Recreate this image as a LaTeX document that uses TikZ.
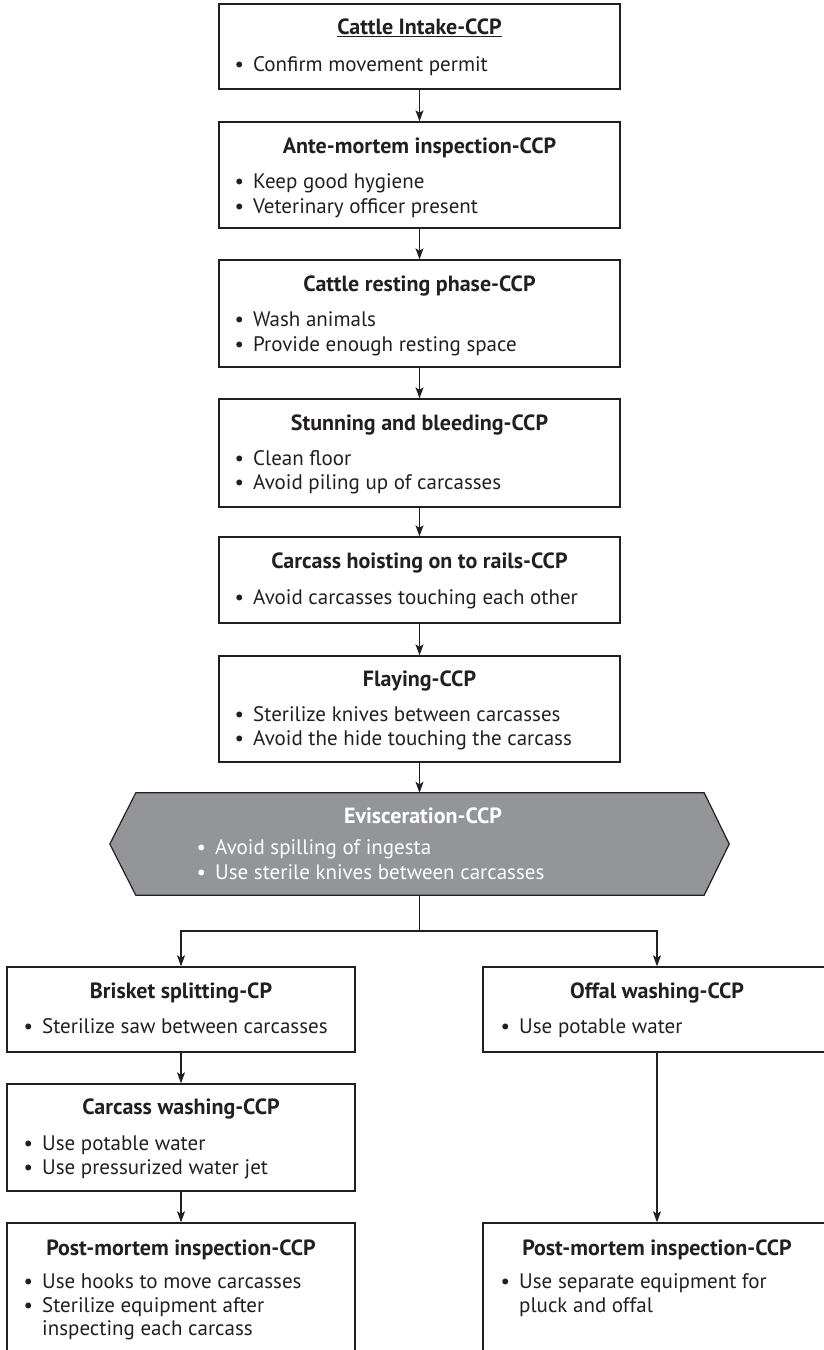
\documentclass[tikz,border=0pt]{standalone}
\usepackage{fontspec}
\setmainfont{PT Sans}
\usetikzlibrary{arrows.meta,calc}
\definecolor{ink}{HTML}{231F20}
\definecolor{hexgray}{HTML}{939598}
\newcommand{\bl}{\llap{\textbullet\hspace{9pt}}}
\begin{document}
\begin{tikzpicture}[x=1pt,y=-1pt,
  stepbox/.style={draw=ink,line width=1.4pt,rectangle,inner sep=0pt,minimum width=401pt},
  sidebox/.style={stepbox,minimum width=348pt},
  ttl/.style={font=\fontsize{22}{26}\selectfont\bfseries,text=ink,inner sep=0pt,anchor=base},
  itm/.style={font=\fontsize{21}{25}\selectfont,text=ink,inner sep=0pt,anchor=base west},
  arr/.style={draw=ink,line width=1.1pt,-{Stealth[length=11pt,width=8pt,inset=2.5pt]}},
  link/.style={draw=ink,line width=1.1pt}]
\useasboundingbox (0,0) rectangle (824,1350);
\clip (0,0) rectangle (824,1350);

% main column (titles and items placed on their baselines)
\node[stepbox,minimum height=85pt]  (intake)  at (419.5,46.5)  {};
\node[ttl] (intakeT) at (419.5,34) {\underline{Cattle Intake-CCP}};
\node[itm] (intake1) at (253,71) {\bl Confirm movement permit};

\node[stepbox,minimum height=106pt] (ante)    at (419.5,175)   {};
\node[ttl] (anteT) at (419.5,153) {Ante-mortem inspection-CCP};
\node[itm] (ante1) at (253,188) {\bl Keep good hygiene};
\node[itm] (ante2) at (253,213) {\bl Veterinary officer present};

\node[stepbox,minimum height=107pt] (rest)    at (419.5,313.5) {};
\node[ttl] (restT) at (419.5,291) {Cattle resting phase-CCP};
\node[itm] (rest1) at (253,326) {\bl Wash animals};
\node[itm] (rest2) at (253,351) {\bl Provide enough resting space};

\node[stepbox,minimum height=108pt] (stun)    at (419.5,453)   {};
\node[ttl] (stunT) at (419.5,430) {Stunning and bleeding-CCP};
\node[itm] (stun1) at (253,465) {\bl Clean floor};
\node[itm] (stun2) at (253,489) {\bl Avoid piling up of carcasses};

\node[stepbox,minimum height=86pt]  (hoist)   at (419.5,580)   {};
\node[ttl] (hoistT) at (419.5,568) {Carcass hoisting on to rails-CCP};
\node[itm] (hoist1) at (253,604) {\bl Avoid carcasses touching each other};

\node[stepbox,minimum height=106pt] (flay)    at (419.5,709)   {};
\node[ttl] (flayT) at (419.5,686) {Flaying-CCP};
\node[itm] (flay1) at (253,721) {\bl Sterilize knives between carcasses};
\node[itm] (flay2) at (253,745) {\bl Avoid the hide touching the carcass};

% evisceration hexagon
\node[rectangle,inner sep=0pt,minimum width=568pt,minimum height=102pt] (evis) at (420,844) {};
\filldraw[fill=hexgray,draw=ink,line width=1.2pt]
  (evis.north west) -- (evis.north east) -- ($(evis.east)+(25,0)$) --
  (evis.south east) -- (evis.south west) -- ($(evis.west)-(26,0)$) -- cycle;
\node[ttl,text=white] (evisT) at (423,823) {Evisceration-CCP};
\node[itm,text=white] (evis1) at (215,854) {\bl Avoid spilling of ingesta};
\node[itm,text=white] (evis2) at (215,879) {\bl Use sterile knives between carcasses};

% left branch
\node[sidebox,minimum height=85pt]  (brisket) at (181,1009.5) {};
\node[ttl] (brisketT) at (181,998) {Brisket splitting-CP};
\node[itm] (brisket1) at (42,1033) {\bl Sterilize saw between carcasses};

\node[sidebox,minimum height=107pt] (wash)    at (181,1137.5) {};
\node[ttl] (washT) at (181,1114) {Carcass washing-CCP};
\node[itm] (wash1) at (42,1150) {\bl Use potable water};
\node[itm] (wash2) at (42,1174) {\bl Use pressurized water jet};

\node[sidebox,minimum height=160pt] (pmL)     at (181,1303) {};
\node[ttl] (pmLT) at (181,1255) {Post-mortem inspection-CCP};
\node[itm] (pmL1) at (42,1288) {\bl Use hooks to move carcasses};
\node[itm] (pmL2) at (42,1312) {\bl Sterilize equipment after};
\node[itm] (pmL3) at (42,1335) {inspecting each carcass};

% right branch
\node[sidebox,minimum height=85pt]  (offal)   at (657,1009.5) {};
\node[ttl] (offalT) at (657,998) {Offal washing-CCP};
\node[itm] (offal1) at (519,1033) {\bl Use potable water};

\node[sidebox,minimum height=160pt] (pmR)     at (657,1303) {};
\node[ttl] (pmRT) at (657,1255) {Post-mortem inspection-CCP};
\node[itm] (pmR1) at (519,1288) {\bl Use separate equipment for};
\node[itm] (pmR2) at (519,1312) {pluck and offal};

% connectors
\draw[arr] (intake.south) -- (ante.north);
\draw[arr] (ante.south)   -- (rest.north);
\draw[arr] (rest.south)   -- (stun.north);
\draw[arr] (stun.south)   -- (hoist.north);
\draw[arr] (hoist.south)  -- (flay.north);
\draw[arr] (flay.south)   -- (evis.north -| flay.south);
\coordinate (split) at (419.5,931);
\draw[link] (evis.south -| split) -- (split);
\draw[arr] (split) -| (brisket.north);
\draw[arr] (split) -| (offal.north);
\draw[arr] (brisket.south) -- (wash.north);
\draw[arr] (wash.south)    -- (pmL.north);
\draw[arr] (offal.south)   -- (pmR.north);
\end{tikzpicture}
\end{document}
